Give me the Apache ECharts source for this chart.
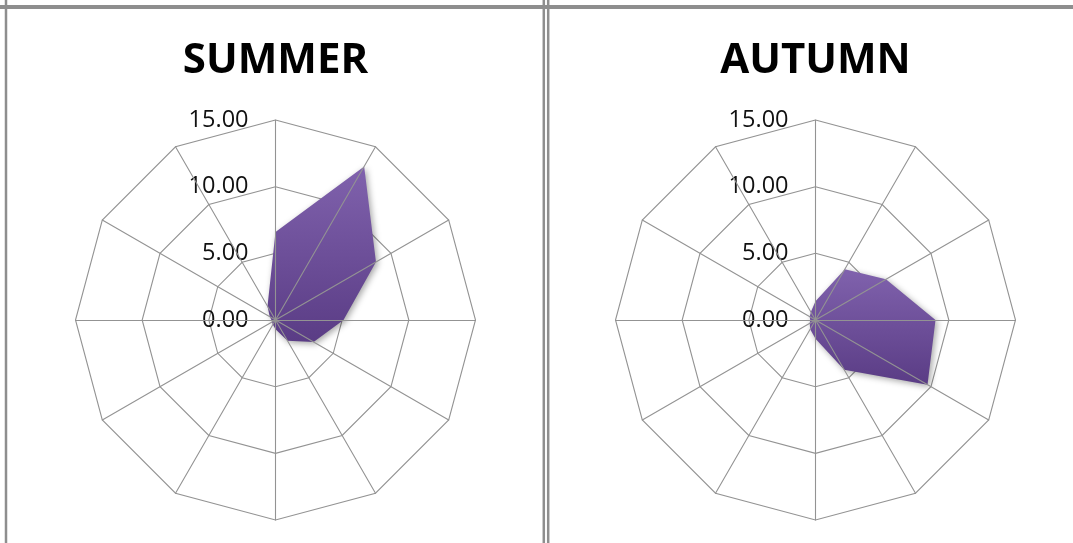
<!DOCTYPE html>
<html>
<head>
<meta charset="utf-8">
<script src="https://cdn.jsdelivr.net/npm/echarts@6/dist/echarts.min.js"></script>
<style>
html,body{margin:0;padding:0;background:#fff;}
#chart{width:1073px;height:543px;}
</style>
</head>
<body>
<div id="chart"></div>
<script>
// 12 unlabeled spokes, listed clockwise from the top
const spokes = ['S1','S2','S3','S4','S5','S6','S7','S8','S9','S10','S11','S12'];
const panelTitles = ['SUMMER', 'AUTUMN'];
const summer = [6.6, 13.3, 8.7, 5.1, 3.3, 1.8, 0.7, 0.4, 0.3, 0.3, 0.5, 1.2];
const autumn = [1.4, 4.4, 6.1, 9.0, 9.7, 4.3, 1.4, 0.8, 0.5, 0.4, 0.5, 0.7];
const axisMin = 0;
const axisMax = 15;
const axisStep = 5;

// ECharts lays radar indicators counter-clockwise; reorder so they run clockwise
function cw(arr) { return arr.map((_, i) => arr[(arr.length - i) % arr.length]); }

const chart = echarts.init(document.getElementById('chart'));
const gridColor = '#939393';
const centers = [[275.5, 320], [815.5, 320]];
const radius = 200;

function indicators(withLabel) {
  return cw(spokes).map((s, i) => {
    const o = { name: s, min: axisMin, max: axisMax };
    if (i === 0 && withLabel) {
      o.axisLabel = {
        show: true,
        margin: 27,
        color: '#111',
        fontFamily: 'Open Sans',
        fontSize: 23.5,
        padding: [5, 0, 0, 0],
        formatter: v => Number(v).toFixed(2)
      };
    }
    return o;
  });
}

function baseRadar(c) {
  return {
    center: c, radius: radius, startAngle: 90, shape: 'polygon',
    splitNumber: (axisMax - axisMin) / axisStep,
    indicator: indicators(true),
    axisName: { show: false },
    axisLine: { show: false },
    axisTick: { show: false },
    axisLabel: { show: false },
    splitLine: { show: true, lineStyle: { color: gridColor, width: 1.1 } },
    splitArea: { show: false },
    z: 0
  };
}
function overlayRadar(c) {
  return {
    center: c, radius: radius, startAngle: 90, shape: 'polygon',
    splitNumber: (axisMax - axisMin) / axisStep,
    indicator: indicators(false),
    axisName: { show: false },
    axisLine: { show: true, lineStyle: { color: gridColor, width: 1.1 } },
    axisTick: { show: false },
    axisLabel: { show: false },
    splitLine: { show: false },
    splitArea: { show: false },
    z: 10
  };
}

const fill = new echarts.graphic.LinearGradient(0, 0, 0, 1, [
  { offset: 0, color: '#8062ad' },
  { offset: 1, color: '#5a3c85' }
]);

function series(idx, values, name) {
  return {
    type: 'radar', radarIndex: idx, name: name, z: 5,
    symbol: 'none', silent: true,
    lineStyle: { width: 0, opacity: 0 },
    areaStyle: {
      color: fill, opacity: 1,
      shadowBlur: 6, shadowColor: 'rgba(0,0,0,0.35)', shadowOffsetX: 2, shadowOffsetY: 2
    },
    data: [{ value: cw(values), name: name }]
  };
}

const border = '#8e8e8e';
chart.setOption({
  animation: false,
  radar: [baseRadar(centers[0]), baseRadar(centers[1]), overlayRadar(centers[0]), overlayRadar(centers[1])],
  series: [series(0, summer, panelTitles[0]), series(1, autumn, panelTitles[1])],
  graphic: [
    { type: 'line', shape: { x1: 0, y1: 7, x2: 1073, y2: 7 }, style: { stroke: border, lineWidth: 4 } },
    { type: 'line', shape: { x1: 6, y1: 0, x2: 6, y2: 543 }, style: { stroke: border, lineWidth: 2.5 } },
    { type: 'line', shape: { x1: 543.8, y1: 0, x2: 543.8, y2: 543 }, style: { stroke: border, lineWidth: 2.5 } },
    { type: 'line', shape: { x1: 548.2, y1: 0, x2: 548.2, y2: 543 }, style: { stroke: border, lineWidth: 2.5 } },
    { type: 'text', x: centers[0][0], y: 61, style: { text: panelTitles[0], font: 'bold 42px "Open Sans"', fill: '#000', textAlign: 'center', textVerticalAlign: 'middle' } },
    { type: 'text', x: centers[1][0], y: 61, style: { text: panelTitles[1], font: 'bold 42px "Open Sans"', fill: '#000', textAlign: 'center', textVerticalAlign: 'middle' } }
  ]
});
</script>
</body>
</html>
